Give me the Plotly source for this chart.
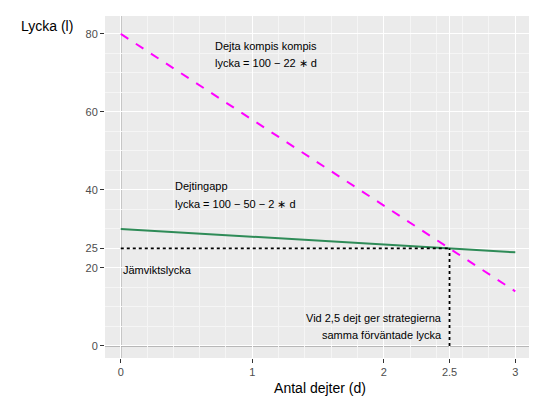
import plotly.graph_objects as go

d = [0, 3]
kompis = [80, 14]
app = [30, 24]
x_ticks = [0, 1, 2, 2.5, 3]
y_ticks = [0, 20, 25, 40, 60, 80]

fig = go.Figure()
fig.add_trace(go.Scatter(x=d, y=kompis, mode="lines", line=dict(color="#ff00ff", width=2, dash="dash")))
fig.add_trace(go.Scatter(x=d, y=app, mode="lines", line=dict(color="#2e8b57", width=2)))
fig.add_trace(go.Scatter(x=[0, 2.5], y=[25, 25], mode="lines", line=dict(color="black", width=1.8, dash="dot")))
fig.add_trace(go.Scatter(x=[2.5, 2.5], y=[0, 25], mode="lines", line=dict(color="black", width=1.8, dash="dot")))

fig.add_shape(type="line", x0=0, x1=0, y0=0, y1=1, yref="paper", line=dict(color="#a6a6a6", width=1.5), layer="below")
fig.add_shape(type="line", x0=0, x1=1, xref="paper", y0=0, y1=0, line=dict(color="#a6a6a6", width=1.5), layer="below")

f = dict(family="Liberation Sans, Arial", size=11, color="black")
def ann(x, y, t, xa="left"):
    fig.add_annotation(x=x, y=y, text=t, showarrow=False, xanchor=xa, font=f)
ann(0.70, 77, "Dejta kompis kompis")
ann(0.70, 72.6, "lycka = 100 − 22 ∗ d")
ann(0.40, 41, "Dejtingapp")
ann(0.40, 36.4, "lycka = 100 − 50 − 2 ∗ d")
ann(0.0, 19.5, "Jämviktslycka")
ann(2.46, 7.2, "Vid 2,5 dejt ger strategierna", "right")
ann(2.46, 2.8, "samma förväntade lycka", "right")

fig.add_annotation(x=-0.2, y=0.97, xref="paper", yref="paper", text="Lycka (l)", showarrow=False,
                   xanchor="left", yanchor="middle", font=dict(family="Liberation Sans, Arial", size=14, color="black"))

ax = dict(showgrid=True, gridcolor="white", gridwidth=1.2, zeroline=False, ticks="outside", automargin=False,
          tickcolor="#333", ticklen=4, tickfont=dict(family="Liberation Sans, Arial", size=11, color="#4d4d4d"),
          minor=dict(showgrid=True, gridcolor="#f5f5f5", gridwidth=0.6))
fig.update_layout(
    width=537, height=403, showlegend=False,
    plot_bgcolor="#ebebeb", paper_bgcolor="white",
    margin=dict(l=97, r=10, t=8, b=53, autoexpand=False),
    xaxis=dict(ax, range=[-0.12, 3.15], tickvals=x_ticks, ticktext=["0", "1", "2", "2.5", "3"],
               title=dict(text="Antal dejter (d)", font=dict(family="Liberation Sans, Arial", size=14, color="black"), standoff=5)),
    yaxis=dict(ax, range=[-3.1, 84.6], tickvals=y_ticks),
)
fig.write_html("out.html")
